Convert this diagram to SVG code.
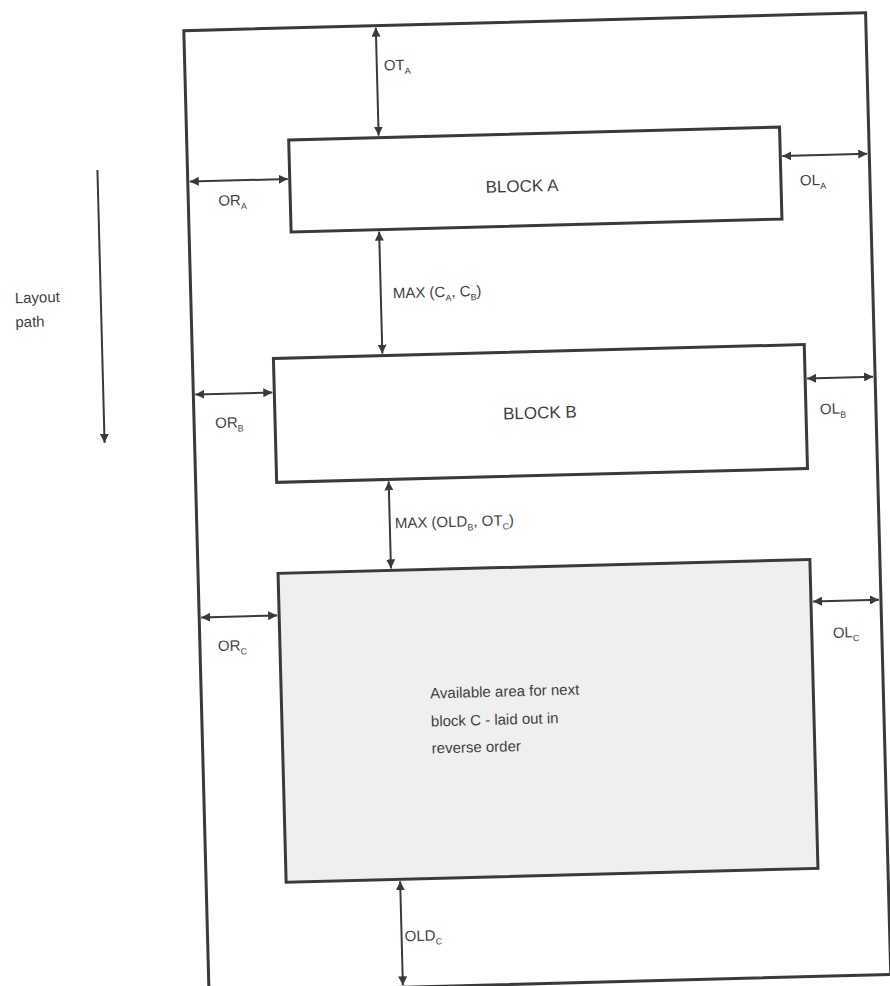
<svg xmlns="http://www.w3.org/2000/svg" width="890" height="986" viewBox="0 0 890 986">
<style>
.frame{fill:none;stroke:#3a3a3a;stroke-width:3}
.blk{fill:#ffffff;stroke:#3a3a3a;stroke-width:3}
.blkc{fill:#efefef;stroke:#3a3a3a;stroke-width:3}
.dim{fill:none;stroke:#3a3a3a;stroke-width:2;marker-start:url(#ah);marker-end:url(#ah)}
.path{fill:none;stroke:#3a3a3a;stroke-width:2;marker-end:url(#ah)}
text{font-family:"Liberation Sans",Arial,sans-serif;fill:#3f3f3f;font-size:15px}
.big{font-size:17px}
.sub{font-size:9px}
</style>
<defs>
<marker id="ah" viewBox="0 0 10 10" refX="10" refY="5" markerWidth="9" markerHeight="9" markerUnits="userSpaceOnUse" orient="auto-start-reverse">
<path d="M0,0 L10,5 L0,10 z" fill="#3a3a3a"/>
</marker>
</defs>
<rect width="890" height="986" fill="#ffffff"/>
<g transform="rotate(-1.5 445 493)">
<g id="frame"><rect class="frame" x="196" y="24" width="682" height="962"/></g>
<g id="blockA"><rect class="blk" x="298" y="136" width="491" height="92"/><text class="big" x="530" y="194" text-anchor="middle">BLOCK A</text></g>
<g id="blockB"><rect class="blk" x="277" y="354" width="531" height="124"/><text class="big" x="542" y="421" text-anchor="middle">BLOCK B</text></g>
<g id="blockC"><rect class="blkc" x="276" y="569" width="532" height="309"/>
<text x="425" y="698">Available area for next</text>
<text x="425" y="726">block C - laid out in</text>
<text x="425" y="753">reverse order</text></g>
<g id="connectors">
<line class="dim" x1="388" y1="26" x2="388" y2="134"/>
<line class="dim" x1="386" y1="230" x2="386" y2="352"/>
<line class="dim" x1="389" y1="480" x2="389" y2="567"/>
<line class="dim" x1="390" y1="880" x2="390" y2="984"/>
<line class="dim" x1="198" y1="175" x2="296" y2="175"/>
<line class="dim" x1="791" y1="165" x2="876" y2="165"/>
<line class="dim" x1="198" y1="388" x2="275" y2="388"/>
<line class="dim" x1="810" y1="388" x2="876" y2="388"/>
<line class="dim" x1="198" y1="611" x2="274" y2="611"/>
<line class="dim" x1="810" y1="611" x2="876" y2="611"/>
<line class="path" x1="106" y1="161" x2="106" y2="434"/>
</g>
<g id="labels">
<text x="395" y="69">OT<tspan class="sub" dy="4">A</tspan></text>
<text x="398" y="297">MAX (C<tspan class="sub" dy="4">A</tspan><tspan dy="-4">, C</tspan><tspan class="sub" dy="4">B</tspan><tspan dy="-4">)</tspan></text>
<text x="394" y="527">MAX (OLD<tspan class="sub" dy="4">B</tspan><tspan dy="-4">, OT</tspan><tspan class="sub" dy="4">C</tspan><tspan dy="-4">)</tspan></text>
<text x="393" y="940">OLD<tspan class="sub" dy="4">C</tspan></text>
<text x="226" y="200">OR<tspan class="sub" dy="4">A</tspan></text>
<text x="808" y="195">OL<tspan class="sub" dy="4">A</tspan></text>
<text x="217" y="422">OR<tspan class="sub" dy="4">B</tspan></text>
<text x="822" y="424">OL<tspan class="sub" dy="4">B</tspan></text>
<text x="214" y="645">OR<tspan class="sub" dy="4">C</tspan></text>
<text x="829" y="648">OL<tspan class="sub" dy="4">C</tspan></text>
<text x="20" y="292">Layout</text>
<text x="20" y="316">path</text>
</g>
</g>
</svg>
